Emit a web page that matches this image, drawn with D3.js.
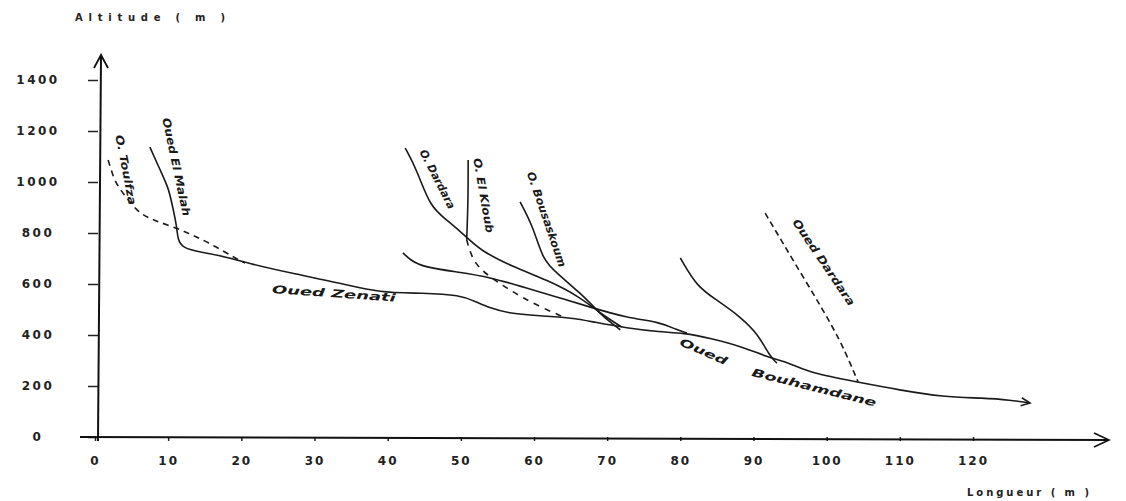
<!DOCTYPE html>
<html>
<head>
<meta charset="utf-8">
<script src="https://cdn.jsdelivr.net/npm/d3@7"></script>
<style>
  body { margin: 0; background: #fff; }
  svg { display: block; }
  .tick text { font-family: "DejaVu Sans", sans-serif; font-weight: bold; font-size: 12px; fill: #222; }
  .riv { font-family: "DejaVu Sans", sans-serif; font-style: italic; font-weight: bold; font-size: 11px; fill: #1a1a1a; }
  .ttl { font-family: "DejaVu Sans", sans-serif; font-weight: bold; font-size: 10px; fill: #222; }
</style>
</head>
<body>
<div id="chart"></div>
<script>
// tick labels
const xTicks = [0, 10, 20, 30, 40, 50, 60, 70, 80, 90, 100, 110, 120];
const yTicks = [0, 200, 400, 600, 800, 1000, 1200, 1400];

// profiles: [longueur, altitude]
const ouedZenati = [
  [7.5, 1137], [8.9, 1047], [10.0, 980], [10.5, 918], [11.2, 824], [11.3, 773], [12.0, 741],
  [14.4, 725], [18.0, 706], [20.8, 682], [26.7, 643], [33.5, 604], [38.9, 565], [44.8, 565],
  [49.9, 557], [52.2, 529], [54.0, 506], [56.3, 486], [60.8, 475], [65.3, 467], [68.1, 451],
  [72.7, 427], [77.2, 412], [80.4, 408], [84.1, 388], [88.6, 353], [91.8, 314], [95.0, 290],
  [97.7, 251], [104.1, 216], [110.0, 184], [115.9, 157], [121.4, 153], [125.1, 145], [127.8, 133]
];
const ouedToulfza = [
  [1.8, 1086], [2.5, 1020], [3.0, 988], [5.7, 882], [7.9, 851], [10.7, 824], [13.4, 792],
  [16.1, 753], [18.9, 706], [20.5, 682]
];
const ouedBranche = [
  [42.1, 722], [43.1, 694], [44.8, 667], [49.5, 647], [54.0, 627], [58.5, 588], [63.1, 549],
  [67.6, 510], [72.7, 467], [77.2, 451], [79.5, 420], [80.9, 408]
];
const ouedDardaraAmont = [
  [42.4, 1133], [44.0, 1047], [45.8, 902], [48.1, 851], [50.8, 784], [52.6, 733], [57.1, 667],
  [61.8, 616], [66.3, 549], [69.0, 486], [72.0, 431]
];
const ouedElKloub = [[51.0, 1086], [51.0, 929], [50.8, 773]];
const ouedElKloubAval = [
  [50.8, 773], [51.7, 682], [54.0, 627], [56.3, 584], [58.5, 545], [61.2, 506], [64.0, 471]
];
const ouedBousaskoum = [
  [58.1, 922], [59.9, 824], [61.2, 694], [63.1, 643], [66.3, 565], [68.6, 498], [70.0, 459], [71.8, 420]
];
const ouedAffluent = [
  [80.0, 702], [82.3, 588], [85.0, 537], [88.2, 471], [90.5, 408], [92.3, 314], [93.2, 290]
];
const ouedDardara = [
  [91.6, 878], [94.0, 761], [96.8, 627], [99.5, 498], [101.8, 380], [103.2, 290], [104.3, 216]
];

// labels: text, longueur, altitude, angle, length (px)
const labels = [
  ["O. Toulfza", 3.3, 1184, 79, 71],
  ["Oued El Malah", 9.7, 1251, 78, 100],
  ["Oued Zenati", 24.2, 580, 4, 124],
  ["O. Dardara", 44.8, 1125, 63, 65],
  ["O. El Kloub", 52.2, 1094, 80, 76],
  ["O. Bousaskoum", 59.5, 1039, 71, 100],
  ["Oued Dardara", 95.7, 851, 56, 102],
  ["Oued", 80.0, 376, 24, 51],
  ["Bouhamdane", 89.8, 255, 14, 128]
];

const width = 1126, height = 501;
const svg = d3.select("#chart").append("svg")
  .attr("width", width)
  .attr("height", height);

const x = d3.scaleLinear().domain([0, 120]).range([95, 973]);
const y = d3.scaleLinear().domain([0, 1400]).range([437, 80]);

// arrow head for the main stream
svg.append("defs").append("marker")
  .attr("id", "arr")
  .attr("viewBox", "-10 -6 12 12")
  .attr("markerWidth", 12).attr("markerHeight", 12)
  .attr("markerUnits", "userSpaceOnUse")
  .attr("orient", "auto")
  .append("path")
  .attr("d", "M-9,-4L0,0L-9,4")
  .attr("fill", "none").attr("stroke", "#1a1a1a").attr("stroke-width", 1.5);

// y axis
const gy = svg.append("g")
  .attr("transform", "translate(98,0)")
  .call(d3.axisLeft(y).tickValues(yTicks).tickFormat(d3.format("d")).tickSize(10).tickSizeOuter(0));
gy.select(".domain").remove();
gy.selectAll(".tick line").attr("stroke", "#222").attr("stroke-width", 1.5);
gy.selectAll(".tick text").attr("x", -60).attr("text-anchor", "middle").attr("letter-spacing", 2.5);

svg.append("line")
  .attr("x1", 98).attr("y1", y(0) + 4).attr("x2", 101).attr("y2", 56)
  .attr("stroke", "#111").attr("stroke-width", 2);
svg.append("path")
  .attr("d", "M94,68L101,55L108,68")
  .attr("fill", "none").attr("stroke", "#111").attr("stroke-width", 1.8);

// x axis
const gx = svg.append("g")
  .attr("transform", "translate(0," + y(0) + ")")
  .call(d3.axisBottom(x).tickValues(xTicks).tickSize(4).tickSizeOuter(0).tickPadding(15));
gx.select(".domain").remove();
gx.selectAll(".tick line").attr("stroke", "#222").attr("stroke-width", 1.5);
gx.selectAll(".tick text").attr("letter-spacing", 2);

svg.append("line")
  .attr("x1", 80).attr("y1", y(0)).attr("x2", 1108).attr("y2", y(0) + 3)
  .attr("stroke", "#111").attr("stroke-width", 1.8);
svg.append("path")
  .attr("d", "M1094,433L1109,440L1094,447")
  .attr("fill", "none").attr("stroke", "#111").attr("stroke-width", 1.6);

// axis titles
svg.append("text").attr("class", "ttl")
  .attr("x", 75).attr("y", 21)
  .attr("textLength", 150).attr("lengthAdjust", "spacing")
  .text("Altitude ( m )");
svg.append("text").attr("class", "ttl")
  .attr("x", 967).attr("y", 496)
  .attr("textLength", 122).attr("lengthAdjust", "spacing")
  .text("Longueur ( m )");

// river profiles
const line = d3.line()
  .x(d => x(d[0]))
  .y(d => y(d[1]))
  .curve(d3.curveBasis);

const rivers = [
  { data: ouedZenati, dash: null, arrow: true },
  { data: ouedToulfza, dash: "6,5" },
  { data: ouedBranche, dash: null },
  { data: ouedDardaraAmont, dash: null },
  { data: ouedElKloub, dash: null },
  { data: ouedElKloubAval, dash: "6,6" },
  { data: ouedBousaskoum, dash: null },
  { data: ouedAffluent, dash: null },
  { data: ouedDardara, dash: "6,4" }
];

svg.selectAll(".river")
  .data(rivers)
  .enter().append("path")
  .attr("class", "river")
  .attr("d", d => line(d.data))
  .attr("fill", "none")
  .attr("stroke", "#1a1a1a")
  .attr("stroke-width", 1.6)
  .attr("stroke-dasharray", d => d.dash)
  .attr("marker-end", d => d.arrow ? "url(#arr)" : null);

// river names
svg.selectAll(".riv")
  .data(labels)
  .enter().append("text")
  .attr("class", "riv")
  .attr("transform", d => "translate(" + x(d[1]) + "," + y(d[2]) + ") rotate(" + d[3] + ")")
  .attr("dy", "0.35em")
  .attr("textLength", d => d[4])
  .attr("lengthAdjust", "spacingAndGlyphs")
  .text(d => d[0]);
</script>
</body>
</html>
